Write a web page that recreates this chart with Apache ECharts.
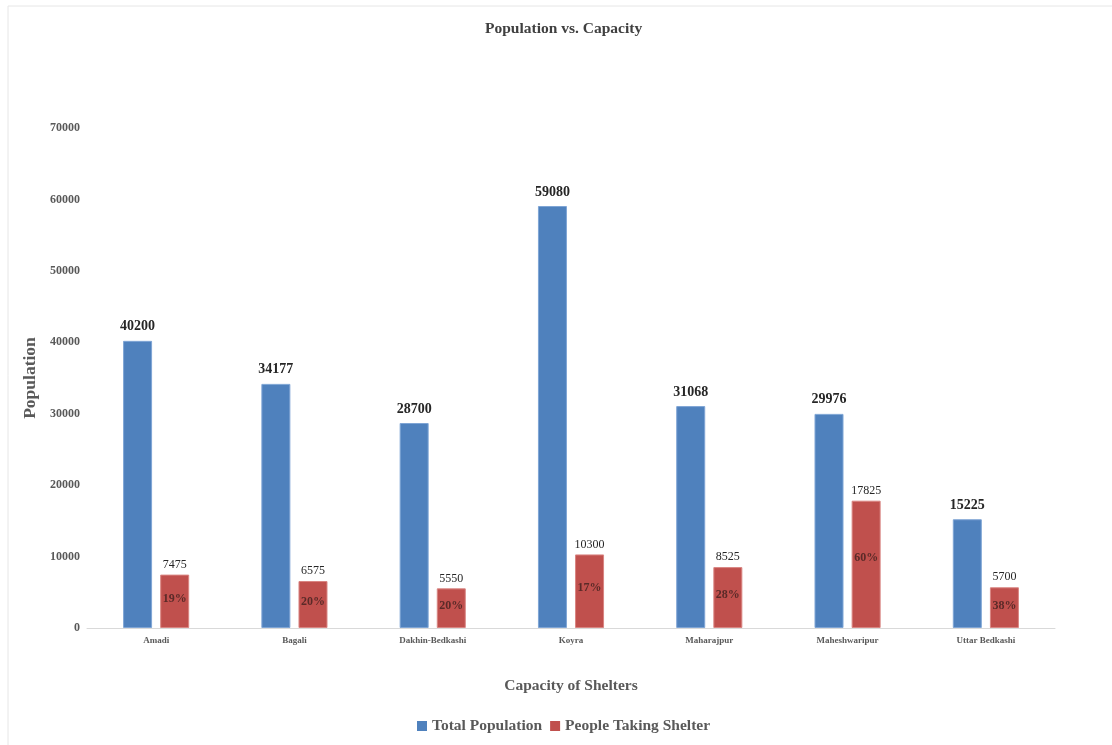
<!DOCTYPE html>
<html>
<head>
<meta charset="utf-8">
<script src="https://cdn.jsdelivr.net/npm/echarts@6/dist/echarts.min.js"></script>
<style>html,body{margin:0;padding:0;background:#fff}#c{width:1112px;height:745px}</style>
</head>
<body>
<div id="c"></div>
<script>
const categories = ['Amadi', 'Bagali', 'Dakhin-Bedkashi', 'Koyra', 'Maharajpur', 'Maheshwaripur', 'Uttar Bedkashi'];
const totalPopulation = [40200, 34177, 28700, 59080, 31068, 29976, 15225];
const peopleTakingShelter = [7475, 6575, 5550, 10300, 8525, 17825, 5700];
const shelterPercent = ['19%', '20%', '20%', '17%', '28%', '60%', '38%'];
const yTicks = [0, 10000, 20000, 30000, 40000, 50000, 60000, 70000];

const FONT = '"Liberation Serif", "DejaVu Serif", serif';
const BAR_W = 29;
const chart = echarts.init(document.getElementById('c'));
chart.setOption({
  animation: false,
  backgroundColor: '#fff',
  textStyle: { fontFamily: FONT },
  title: {
    text: 'Population vs. Capacity',
    left: 480, top: 16,
    textStyle: { fontFamily: FONT, fontSize: 15.5, fontWeight: 'bold', color: '#404040' }
  },
  legend: {
    data: ['Total Population', 'People Taking Shelter'],
    bottom: 6, left: 412,
    icon: 'rect', itemWidth: 10, itemHeight: 10, itemGap: 8,
    itemStyle: { borderWidth: 0 },
    textStyle: { fontFamily: FONT, fontSize: 15.5, fontWeight: 'bold', color: '#595959' }
  },
  grid: { left: 87, right: 57, top: 128, bottom: 117, containLabel: false },
  xAxis: [
    {
      type: 'category',
      data: categories,
      name: 'Capacity of Shelters',
      nameLocation: 'middle',
      nameGap: 50,
      nameTextStyle: { fontFamily: FONT, fontSize: 15.5, fontWeight: 'bold', color: '#595959' },
      axisLine: { lineStyle: { color: '#d9d9d9', width: 1 } },
      axisTick: { show: false },
      axisLabel: { fontFamily: FONT, fontSize: 9, fontWeight: 'bold', color: '#595959', margin: 8 }
    },
    {
      type: 'category',
      data: categories,
      show: false,
      position: 'bottom'
    }
  ],
  yAxis: {
    type: 'value',
    min: 0, max: 70000, interval: 10000,
    name: 'Population',
    nameLocation: 'middle',
    nameGap: 34,
    nameRotate: 90,
    nameTextStyle: { fontFamily: FONT, fontSize: 17.5, fontWeight: 'bold', color: '#595959' },
    axisLine: { show: false },
    axisTick: { show: false },
    splitLine: { show: false },
    axisLabel: {
      fontFamily: FONT, fontSize: 12, fontWeight: 'bold', color: '#595959', margin: 7,
      formatter: v => yTicks.includes(v) ? String(v) : ''
    }
  },
  series: [
    {
      name: 'Total Population',
      type: 'bar',
      xAxisIndex: 0,
      data: totalPopulation,
      barWidth: BAR_W,
      barGap: '28%',
      itemStyle: { color: '#4F81BD', borderColor: '#7FA5D5', borderWidth: 1 },
      label: {
        show: true, position: 'top', distance: 7,
        fontFamily: FONT, fontSize: 14, fontWeight: 'bold', color: '#262626'
      }
    },
    {
      name: 'People Taking Shelter',
      type: 'bar',
      xAxisIndex: 0,
      data: peopleTakingShelter,
      barWidth: BAR_W,
      barGap: '28%',
      itemStyle: { color: '#C0504D', borderColor: '#D98582', borderWidth: 1 },
      label: {
        show: true, position: 'top', distance: 4,
        fontFamily: FONT, fontSize: 12, color: '#262626'
      }
    },
    {
      name: 'placeholder',
      type: 'bar',
      xAxisIndex: 1,
      data: totalPopulation,
      barWidth: BAR_W,
      barGap: '28%',
      silent: true,
      itemStyle: { color: 'rgba(0,0,0,0)' },
      label: { show: false }
    },
    {
      name: 'percent',
      type: 'bar',
      xAxisIndex: 1,
      data: peopleTakingShelter,
      barWidth: BAR_W,
      barGap: '28%',
      silent: true,
      itemStyle: { color: 'rgba(0,0,0,0)' },
      label: {
        show: true, position: ['50%', '45%'], align: 'center', verticalAlign: 'middle',
        fontFamily: FONT, fontSize: 12, fontWeight: 'bold', color: '#5A2A28',
        formatter: p => shelterPercent[p.dataIndex]
      }
    }
  ],
  graphic: [
    { type: 'line', shape: { x1: 8, y1: 6, x2: 8, y2: 745 }, style: { stroke: '#e6e6e6', lineWidth: 1 }, silent: true },
    { type: 'line', shape: { x1: 8, y1: 6, x2: 1112, y2: 6 }, style: { stroke: '#e6e6e6', lineWidth: 1 }, silent: true }
  ]
});
</script>
</body>
</html>
